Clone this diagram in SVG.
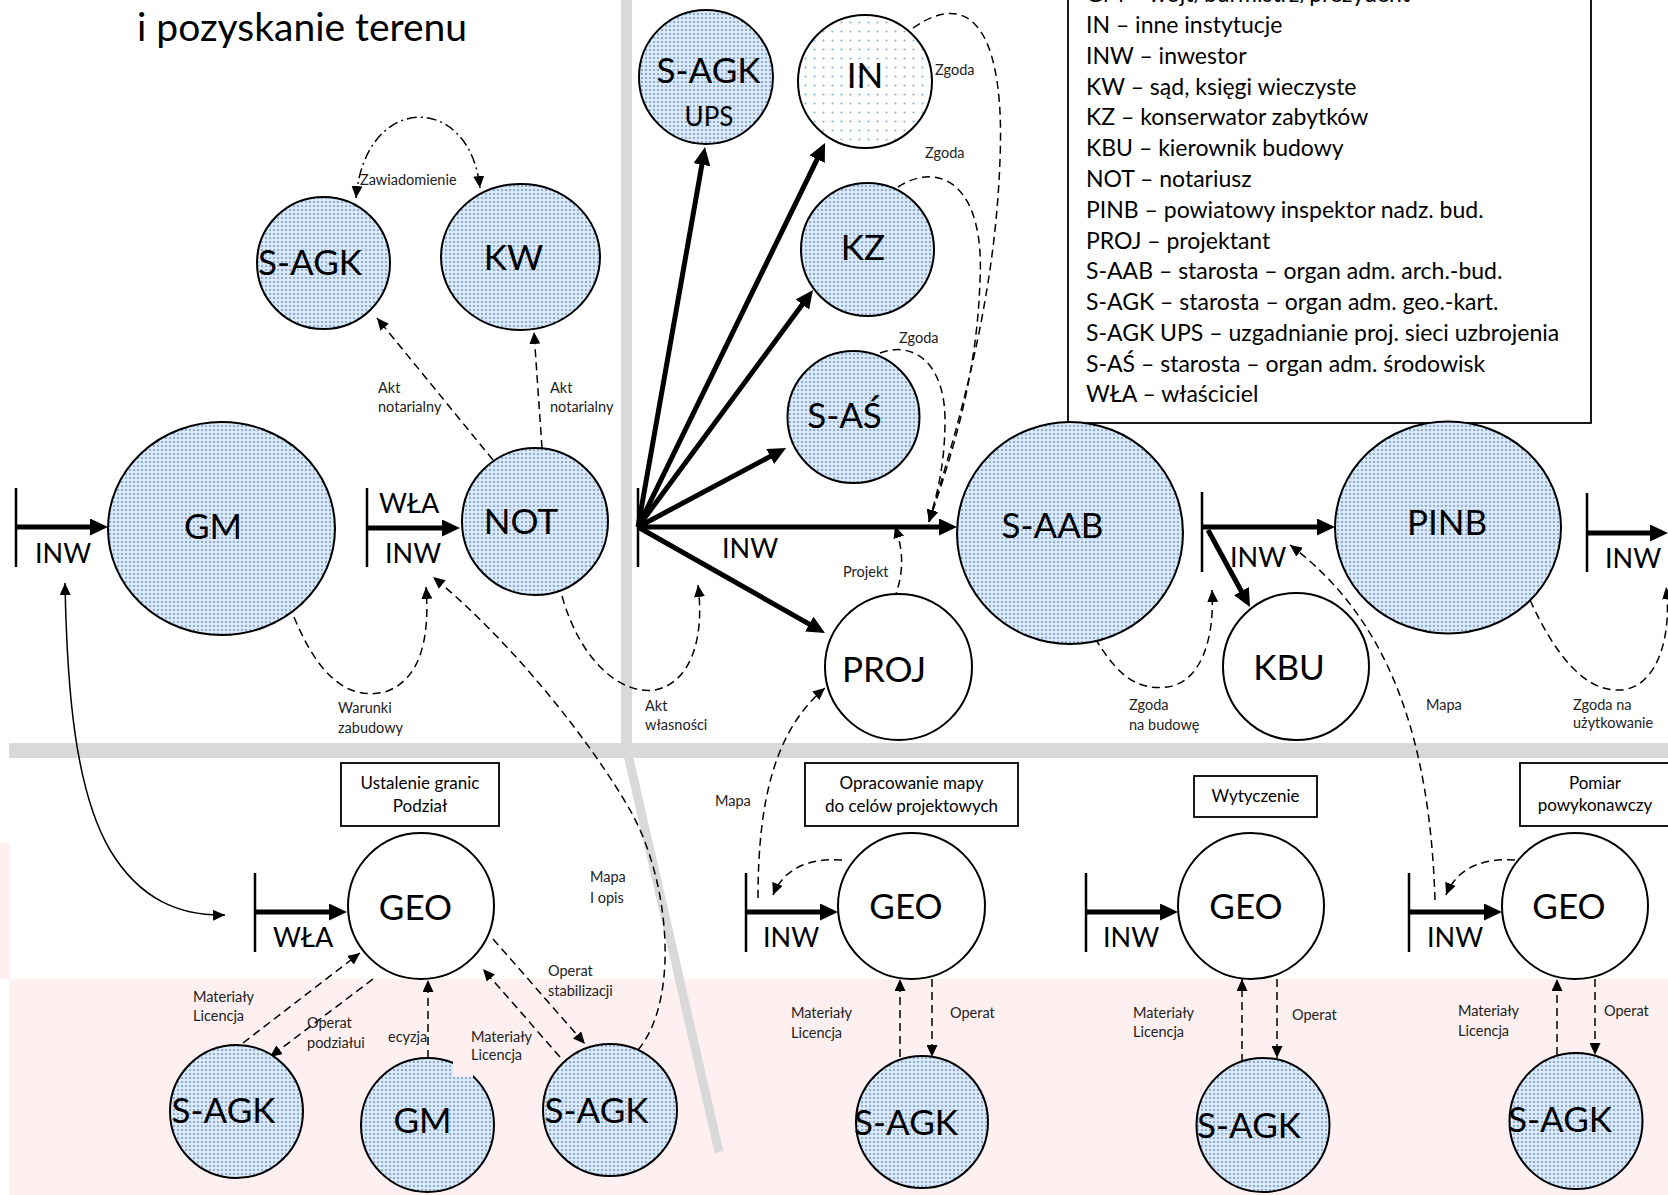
<svg xmlns="http://www.w3.org/2000/svg" width="1668" height="1195" viewBox="0 0 1668 1195">
<defs>
<pattern id="dots" width="4" height="4" patternUnits="userSpaceOnUse"><rect width="4" height="4" fill="#dce8f5"/><circle cx="2" cy="2" r="1" fill="#6a9ad0"/></pattern>
<pattern id="sparse" width="9" height="9" patternUnits="userSpaceOnUse"><rect width="9" height="9" fill="#fff"/><circle cx="4.5" cy="4.5" r="1.1" fill="#8ab4e0"/></pattern>
<marker id="thick" markerUnits="userSpaceOnUse" markerWidth="18" markerHeight="17" refX="4" refY="8.5" orient="auto"><path d="M0,0 L18,8.5 L0,17 z" fill="#000"/></marker>
<marker id="thin" markerUnits="userSpaceOnUse" markerWidth="12" markerHeight="11" refX="12" refY="5.5" orient="auto-start-reverse"><path d="M0,0 L12,5.5 L0,11 z" fill="#000"/></marker>
</defs>
<style>
.t{font-family:Lato,"Liberation Sans",sans-serif;fill:#000}
.big{font-size:35px;text-anchor:middle}
.mid{font-size:27px}
.sm{font-size:14.5px;fill:#222}
.bx{font-size:17px;text-anchor:middle}
.lg{font-size:23px}
.ttl{font-size:39px}
.circ{fill:url(#dots);stroke:#000;stroke-width:2}
.wc{fill:#fff;stroke:#000;stroke-width:2}
.arr{stroke:#000;stroke-width:5;fill:none;marker-end:url(#thick)}
.bar{stroke:#000;stroke-width:2.5;fill:none}
.dash{stroke:#000;stroke-width:1.5;fill:none;stroke-dasharray:8 5;marker-end:url(#thin)}
.dd{stroke:#000;stroke-width:1.5;fill:none;stroke-dasharray:10 4 2 4;marker-start:url(#thin);marker-end:url(#thin)}
.sol{stroke:#000;stroke-width:1.5;fill:none;marker-start:url(#thin);marker-end:url(#thin)}
.box{fill:#fff;stroke:#000;stroke-width:1.8}
.sep{stroke:#d9d9d9;fill:none}
</style>
<rect width="1668" height="1195" fill="#fff"/>
<g id="background">
<rect x="9" y="979" width="1659" height="216" fill="#fef0f0"/>
<rect x="0" y="843" width="10" height="136" fill="#fef0f0"/>
<line class="sep" x1="626.5" y1="0" x2="626.5" y2="750" stroke-width="11"/>
<line class="sep" x1="9" y1="750.5" x2="1668" y2="750.5" stroke-width="15"/>
<line class="sep" x1="627" y1="750" x2="719" y2="1152" stroke-width="9"/>
</g>
<text class="t ttl" x="137" y="41">i pozyskanie terenu</text>

<g id="legend">
<rect class="box" x="1068" y="-40" width="523" height="463"/>
<text class="t lg" x="1086" y="2.3">GM – wójt/burmistrz/prezydent</text>
<text class="t lg" x="1086" y="33.1">IN – inne instytucje</text>
<text class="t lg" x="1086" y="63.8">INW – inwestor</text>
<text class="t lg" x="1086" y="94.6">KW – sąd, księgi wieczyste</text>
<text class="t lg" x="1086" y="125.4">KZ – konserwator zabytków</text>
<text class="t lg" x="1086" y="156.1">KBU – kierownik budowy</text>
<text class="t lg" x="1086" y="186.9">NOT – notariusz</text>
<text class="t lg" x="1086" y="217.7">PINB – powiatowy inspektor nadz. bud.</text>
<text class="t lg" x="1086" y="248.5">PROJ – projektant</text>
<text class="t lg" x="1086" y="279.2">S-AAB – starosta – organ adm. arch.-bud.</text>
<text class="t lg" x="1086" y="310">S-AGK – starosta – organ adm. geo.-kart.</text>
<text class="t lg" x="1086" y="340.8">S-AGK UPS – uzgadnianie proj. sieci uzbrojenia</text>
<text class="t lg" x="1086" y="371.5">S-AŚ – starosta – organ adm. środowisk</text>
<text class="t lg" x="1086" y="402.3">WŁA – właściciel</text>
</g>

<g id="connectors">
<path class="bar" d="M16,488 V567 M367,488 V567 M638,488 V567 M1202,492 V572 M1587,493 V572 M255,873 V952 M746,873 V952 M1086,873 V952 M1409,873 V952"/>
<path class="arr" d="M16,527 H94"/>
<path class="arr" d="M367,528 H446"/>
<path class="arr" d="M638,527 L702.6,160.8"/>
<path class="arr" d="M638,527 L818.9,155.6"/>
<path class="arr" d="M638,527 L804.7,301.3"/>
<path class="arr" d="M638,527 L773.7,454.6"/>
<path class="arr" d="M638,527 H943"/>
<path class="arr" d="M638,527 L812.8,626.1"/>
<path class="arr" d="M1202,527 H1321"/>
<path class="arr" d="M1208,530 L1243.3,594.7"/>
<path class="arr" d="M1587,533 H1654"/>
<path class="arr" d="M255,912 H333"/>
<path class="arr" d="M746,912 H824"/>
<path class="arr" d="M1086,912 H1164"/>
<path class="arr" d="M1409,912 H1488"/>
<path class="dd" d="M356,198 C365,92 470,92 480,188"/>
<path class="dash" d="M493,460 L377,318"/>
<path class="dash" d="M542,448 L534,332"/>
<path class="dash" d="M294,617 C320,680 350,700 385,692 C420,680 430,640 426,587"/>
<path class="dash" d="M562,596 C580,660 620,695 655,690 C690,683 705,640 698,585"/>
<path class="dash" d="M913,28 C975,-15 1005,40 1000,160 C995,300 960,420 929,522"/>
<path class="dash" d="M898,187 C940,160 985,185 980,280 C977,380 950,460 929,522"/>
<path class="dash" d="M880,353 C915,340 945,365 945,420 C945,470 935,500 929,522"/>
<path class="dash" d="M894,600 C905,570 903,550 895,526"/>
<path class="dash" d="M1095,638 C1120,680 1140,690 1167,687 C1200,683 1215,640 1212,590"/>
<path class="dash" d="M1435,900 C1430,740 1390,620 1290,545"/>
<path class="dash" d="M1530,600 C1555,655 1585,692 1620,690 C1660,688 1672,630 1666,587"/>
<path class="dash" d="M758,898 C758,800 775,730 825,688"/>
<path class="dash" d="M842,860 C815,858 785,865 773,895"/>
<path class="dash" d="M1515,860 C1488,858 1458,865 1446,895"/>
<path class="dash" d="M243,1043 L360,953"/>
<path class="dash" d="M373,979 L270,1057"/>
<path class="dash" d="M428,1058 V980"/>
<path class="dash" d="M560,1057 L483,969"/>
<path class="dash" d="M493,939 L585,1044"/>
<path class="dash" d="M638,1050 C680,1000 670,880 630,810 C590,740 510,640 433,577"/>
<path class="dash" d="M900,1057 V979"/>
<path class="dash" d="M932,979 V1057"/>
<path class="dash" d="M1242,1062 V979"/>
<path class="dash" d="M1277,979 V1058"/>
<path class="dash" d="M1557,1055 V979"/>
<path class="dash" d="M1595,979 V1055"/>
<path class="sol" d="M65,583 C67,690 75,790 110,850 C140,900 180,916 225,915"/>
<text class="t mid" x="35" y="563">INW</text>
<text class="t mid" x="379" y="513">WŁA</text>
<text class="t mid" x="385" y="563">INW</text>
<text class="t mid" x="722" y="558">INW</text>
<text class="t mid" x="1230" y="567">INW</text>
<text class="t mid" x="1605" y="568">INW</text>
<text class="t mid" x="273" y="947">WŁA</text>
<text class="t mid" x="763" y="947">INW</text>
<text class="t mid" x="1103" y="947">INW</text>
<text class="t mid" x="1427" y="947">INW</text>
<text class="t sm" x="360" y="185">Zawiadomienie</text>
<text class="t sm" x="378" y="393">Akt</text>
<text class="t sm" x="378" y="412">notarialny</text>
<text class="t sm" x="550" y="393">Akt</text>
<text class="t sm" x="550" y="412">notarialny</text>
<text class="t sm" x="935" y="75">Zgoda</text>
<text class="t sm" x="925" y="158">Zgoda</text>
<text class="t sm" x="899" y="343">Zgoda</text>
<text class="t sm" x="843" y="577">Projekt</text>
<text class="t sm" x="338" y="713">Warunki</text>
<text class="t sm" x="338" y="733">zabudowy</text>
<text class="t sm" x="645" y="711">Akt</text>
<text class="t sm" x="645" y="730">własności</text>
<text class="t sm" x="1129" y="710">Zgoda</text>
<text class="t sm" x="1129" y="730">na budowę</text>
<text class="t sm" x="1426" y="710">Mapa</text>
<text class="t sm" x="1573" y="710">Zgoda na</text>
<text class="t sm" x="1573" y="728">użytkowanie</text>
<text class="t sm" x="715" y="806">Mapa</text>
<text class="t sm" x="590" y="882">Mapa</text>
<text class="t sm" x="590" y="903">I opis</text>
<text class="t sm" x="193" y="1002">Materiały</text>
<text class="t sm" x="193" y="1021">Licencja</text>
<text class="t sm" x="307" y="1028">Operat</text>
<text class="t sm" x="307" y="1048">podziałui</text>
<text class="t sm" x="388" y="1042">ecyzja</text>
<text class="t sm" x="471" y="1042">Materiały</text>
<text class="t sm" x="471" y="1060">Licencja</text>
<text class="t sm" x="548" y="976">Operat</text>
<text class="t sm" x="548" y="996">stabilizacji</text>
<text class="t sm" x="791" y="1018">Materiały</text>
<text class="t sm" x="791" y="1038">Licencja</text>
<text class="t sm" x="950" y="1018">Operat</text>
<text class="t sm" x="1133" y="1018">Materiały</text>
<text class="t sm" x="1133" y="1037">Licencja</text>
<text class="t sm" x="1292" y="1020">Operat</text>
<text class="t sm" x="1458" y="1016">Materiały</text>
<text class="t sm" x="1458" y="1036">Licencja</text>
<text class="t sm" x="1604" y="1016">Operat</text>
</g>

<g id="n-sagk-top"><ellipse class="circ" cx="323.5" cy="263" rx="66.5" ry="66"/><text class="t big" x="310" y="275">S-AGK</text></g>
<g id="n-kw"><ellipse class="circ" cx="520.5" cy="257" rx="79.5" ry="73"/><text class="t big" x="513.5" y="270">KW</text></g>
<g id="n-gm"><ellipse class="circ" cx="221.5" cy="528.5" rx="113.5" ry="106.5"/><text class="t big" x="213" y="539">GM</text></g>
<g id="n-not"><ellipse class="circ" cx="535" cy="521.5" rx="73" ry="73.5"/><text class="t big" x="521" y="534">NOT</text></g>
<g id="n-sagk-ups"><ellipse class="circ" cx="706" cy="77" rx="67" ry="67"/><text class="t big" x="708.5" y="83">S-AGK</text><text class="t big" x="709" y="126" style="font-size:26px">UPS</text></g>
<g id="n-in"><ellipse cx="865" cy="81.5" rx="67" ry="66.5" fill="url(#sparse)" stroke="#000" stroke-width="2"/><text class="t big" x="865" y="88">IN</text></g>
<g id="n-kz"><ellipse class="circ" cx="867.5" cy="249.5" rx="66.5" ry="66.5"/><text class="t big" x="863" y="260">KZ</text></g>
<g id="n-sas"><ellipse class="circ" cx="853.5" cy="417" rx="66" ry="66"/><text class="t big" x="844.5" y="428">S-AŚ</text></g>
<g id="n-saab"><ellipse class="circ" cx="1070" cy="533" rx="113" ry="111"/><text class="t big" x="1052.5" y="538">S-AAB</text></g>
<g id="n-proj"><ellipse class="wc" cx="898.5" cy="667" rx="73.5" ry="73"/><text class="t big" x="884" y="682">PROJ</text></g>
<g id="n-kbu"><ellipse class="wc" cx="1296" cy="666.5" rx="73" ry="73.5"/><text class="t big" x="1289" y="680">KBU</text></g>
<g id="n-pinb"><ellipse class="circ" cx="1448" cy="527.5" rx="113" ry="106"/><text class="t big" x="1447" y="535">PINB</text></g>

<g id="box-ustalenie"><rect class="box" x="341" y="763" width="158" height="63"/><text class="t bx" x="420" y="789">Ustalenie granic</text><text class="t bx" x="420" y="812">Podział</text></g>
<g id="box-opracowanie"><rect class="box" x="805" y="763" width="213" height="63"/><text class="t bx" x="911.5" y="789">Opracowanie mapy</text><text class="t bx" x="911.5" y="812">do celów projektowych</text></g>
<g id="box-wytyczenie"><rect class="box" x="1194" y="776" width="123" height="41"/><text class="t bx" x="1255.5" y="802">Wytyczenie</text></g>
<g id="box-pomiar"><rect class="box" x="1520" y="763" width="160" height="63"/><text class="t bx" x="1595" y="789">Pomiar</text><text class="t bx" x="1595" y="811">powykonawczy</text></g>

<g id="n-geo1"><ellipse class="wc" cx="421" cy="906" rx="73" ry="73"/><text class="t big" x="415.5" y="920">GEO</text></g>
<g id="n-geo2"><ellipse class="wc" cx="911.5" cy="906" rx="73.5" ry="73"/><text class="t big" x="906" y="919">GEO</text></g>
<g id="n-geo3"><ellipse class="wc" cx="1251" cy="906" rx="73" ry="73"/><text class="t big" x="1246" y="919">GEO</text></g>
<g id="n-geo4"><ellipse class="wc" cx="1575" cy="906" rx="73" ry="73"/><text class="t big" x="1569" y="919">GEO</text></g>
<g id="n-sagk-b1"><ellipse class="circ" cx="236.5" cy="1111.5" rx="66.5" ry="66.5"/><text class="t big" x="223.5" y="1123">S-AGK</text></g>
<g id="n-gm-b"><ellipse class="circ" cx="427.5" cy="1125" rx="66.5" ry="67"/><rect x="453" y="1061" width="20" height="16" fill="#fef0f0"/><text class="t big" x="422.5" y="1133">GM</text></g>
<g id="n-sagk-b2"><ellipse class="circ" cx="610" cy="1110" rx="67" ry="66"/><text class="t big" x="596.5" y="1122.6">S-AGK</text></g>
<g id="n-sagk-b3"><ellipse class="circ" cx="922" cy="1122" rx="66" ry="66"/><text class="t big" x="906" y="1135">S-AGK</text></g>
<g id="n-sagk-b4"><ellipse class="circ" cx="1263" cy="1125" rx="66.5" ry="67"/><text class="t big" x="1249" y="1138">S-AGK</text></g>
<g id="n-sagk-b5"><ellipse class="circ" cx="1576" cy="1121" rx="66.5" ry="68"/><text class="t big" x="1560" y="1132">S-AGK</text></g>
</svg>
